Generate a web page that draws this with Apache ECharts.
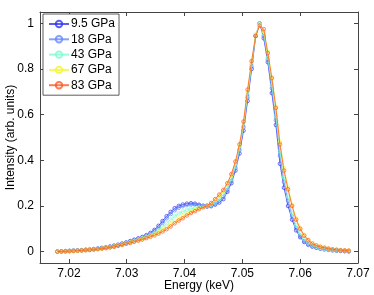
<!DOCTYPE html>
<html>
<head>
<meta charset="utf-8">
<script src="https://cdn.jsdelivr.net/npm/echarts@6/dist/echarts.min.js"></script>
<style>html,body{margin:0;padding:0;background:#fff;}#c{width:374px;height:295px;}</style>
</head>
<body>
<div id="c"></div>
<script>
var energies = [7.0180,7.0187,7.0194,7.0201,7.0208,7.0215,7.0222,7.0229,7.0236,7.0243,
7.0250,7.0257,7.0264,7.0271,7.0278,7.0285,7.0292,7.0299,7.0306,7.0313,
7.0320,7.0327,7.0334,7.0341,7.0348,7.0355,7.0362,7.0369,7.0376,7.0383,
7.0390,7.0397,7.0404,7.0411,7.0418,7.0425,7.0432,7.0439,7.0446,7.0453,
7.0460,7.0467,7.0474,7.0481,7.0488,7.0495,7.0502,7.0509,7.0516,7.0523,
7.0530,7.0537,7.0544,7.0551,7.0558,7.0565,7.0572,7.0579,7.0586,7.0593,
7.0600,7.0607,7.0614,7.0621,7.0628,7.0635,7.0642,7.0649,7.0656,7.0663,
7.0670,7.0677,7.0684];

var seriesNames = ['9.5 GPa','18 GPa','43 GPa','67 GPa','83 GPa'];

var p9_5 = [0.000,0.001,0.002,0.003,0.004,0.005,0.006,0.008,0.009,0.011,
0.013,0.016,0.019,0.022,0.026,0.030,0.035,0.040,0.046,0.052,
0.058,0.064,0.072,0.082,0.095,0.113,0.134,0.155,0.174,0.190,
0.200,0.206,0.210,0.212,0.210,0.205,0.200,0.197,0.199,0.206,
0.215,0.230,0.262,0.300,0.355,0.430,0.530,0.660,0.800,0.945,
1.000,0.935,0.830,0.695,0.555,0.385,0.280,0.200,0.140,0.093,
0.063,0.042,0.030,0.022,0.017,0.013,0.010,0.008,0.006,0.004,
0.003,0.002,0.001];

var p18 = [0.000,0.001,0.002,0.003,0.004,0.005,0.006,0.007,0.009,0.011,
0.013,0.015,0.018,0.021,0.025,0.029,0.034,0.039,0.044,0.050,
0.056,0.062,0.069,0.078,0.090,0.106,0.126,0.146,0.165,0.181,
0.192,0.199,0.204,0.206,0.206,0.204,0.201,0.199,0.202,0.210,
0.222,0.240,0.270,0.310,0.365,0.445,0.545,0.675,0.810,0.945,
1.000,0.945,0.840,0.715,0.575,0.420,0.305,0.222,0.155,0.103,
0.069,0.046,0.033,0.024,0.018,0.014,0.011,0.008,0.006,0.005,
0.004,0.003,0.002];

var p43 = [0.000,0.001,0.001,0.002,0.003,0.004,0.005,0.007,0.008,0.010,
0.012,0.014,0.017,0.020,0.023,0.027,0.031,0.036,0.041,0.046,
0.052,0.058,0.064,0.072,0.081,0.093,0.108,0.124,0.140,0.155,
0.167,0.176,0.183,0.188,0.191,0.194,0.196,0.199,0.205,0.215,
0.230,0.250,0.278,0.318,0.372,0.450,0.550,0.685,0.820,0.950,
1.000,0.955,0.850,0.730,0.595,0.440,0.325,0.240,0.170,0.115,
0.080,0.055,0.039,0.028,0.021,0.016,0.012,0.009,0.007,0.006,
0.005,0.004,0.003];

var p67 = [0.000,0.001,0.001,0.002,0.003,0.004,0.005,0.006,0.008,0.009,
0.011,0.013,0.016,0.019,0.022,0.026,0.030,0.035,0.040,0.045,
0.050,0.056,0.062,0.068,0.075,0.084,0.094,0.106,0.119,0.132,
0.144,0.155,0.165,0.174,0.182,0.189,0.195,0.202,0.212,0.228,
0.246,0.266,0.295,0.335,0.390,0.465,0.565,0.700,0.830,0.950,
0.995,0.965,0.875,0.765,0.635,0.480,0.365,0.280,0.205,0.145,
0.103,0.073,0.052,0.037,0.028,0.022,0.017,0.013,0.010,0.008,
0.007,0.006,0.005];

var p83 = [0.000,0.001,0.001,0.002,0.003,0.004,0.005,0.006,0.007,0.009,
0.011,0.013,0.015,0.018,0.021,0.025,0.029,0.034,0.038,0.043,
0.048,0.053,0.059,0.065,0.071,0.079,0.088,0.098,0.110,0.124,
0.136,0.146,0.158,0.169,0.177,0.186,0.194,0.202,0.213,0.230,
0.250,0.270,0.300,0.340,0.395,0.470,0.570,0.710,0.835,0.945,
0.990,0.975,0.870,0.760,0.630,0.470,0.355,0.273,0.200,0.140,
0.100,0.070,0.050,0.035,0.027,0.021,0.017,0.013,0.010,0.008,
0.006,0.005,0.004];

var xTicks = [7.02,7.03,7.04,7.05,7.06,7.07];
var yTicks = [0,0.2,0.4,0.6,0.8,1];

var values = [p9_5,p18,p43,p67,p83];
var colors = ['#3535f0','#6688ff','#7dfcd0','#f6f62a','#ff5a28'];

var font = 'Liberation Sans, Arial, sans-serif';
var chart = echarts.init(document.getElementById('c'));

function pairs(arr){ return energies.map(function(e,i){ return [e, arr[i]]; }); }

var series = values.map(function(v,i){
  return {
    name: seriesNames[i], type: 'line', data: pairs(v),
    xAxisIndex: 0, yAxisIndex: 0,
    symbol: 'circle', symbolSize: 3.6,
    itemStyle: {color: 'rgba(255,255,255,0)', borderColor: colors[i], borderWidth: 0.9, opacity: 0.8},
    lineStyle: {color: colors[i], width: 1, opacity: 0.8},
    emphasis: {disabled: true},
    animation: false, z: 2 + i
  };
});

function axisCommon(pos, isX, showLabel){
  var ticks = isX ? xTicks : yTicks;
  return {
    type: 'value', position: pos,
    min: isX ? 7.015 : -0.05, max: isX ? 7.07 : 1.05,
    axisLine: {show: true, onZero: false, lineStyle: {color: '#444', width: 1}},
    axisTick: {show: true, inside: true, length: 4, customValues: ticks, lineStyle: {color: '#444', width: 1}},
    axisLabel: {show: showLabel, customValues: ticks, color: '#000', fontSize: 12, fontFamily: font,
      margin: isX ? 5 : 6,
      formatter: function(v){ return isX ? v.toFixed(2) : String(Math.round(v*10)/10); }},
    splitLine: {show: false}
  };
}

var xa = axisCommon('bottom', true, true);
xa.name = 'Energy (keV)'; xa.nameLocation = 'middle'; xa.nameGap = 17; xa.nameMoveOverlap = false;
xa.nameTextStyle = {color: '#000', fontSize: 12, fontFamily: font};
var ya = axisCommon('left', false, true);
ya.name = 'Intensity (arb. units)'; ya.nameLocation = 'middle'; ya.nameGap = 23; ya.nameMoveOverlap = false;
ya.nameTextStyle = {color: '#000', fontSize: 12, fontFamily: font};

chart.setOption({
  animation: false,
  backgroundColor: '#fff',
  grid: {left: 40, right: 16, top: 12, bottom: 32, containLabel: false, outerBoundsMode: 'none'},
  xAxis: [xa, axisCommon('top', true, false)],
  yAxis: [ya, axisCommon('right', false, false)],
  legend: {
    orient: 'vertical', left: 43, top: 14,
    data: seriesNames,
    itemWidth: 20, itemHeight: 8, itemGap: 3.3,
    padding: [4, 4, 4, 5],
    backgroundColor: '#fff', borderColor: '#333', borderWidth: 0.8, borderRadius: 0,
    textStyle: {color: '#000', fontSize: 12, fontFamily: font, padding: [0,0,0,-3]},
    selectedMode: false
  },
  series: series
});
</script>
</body>
</html>
